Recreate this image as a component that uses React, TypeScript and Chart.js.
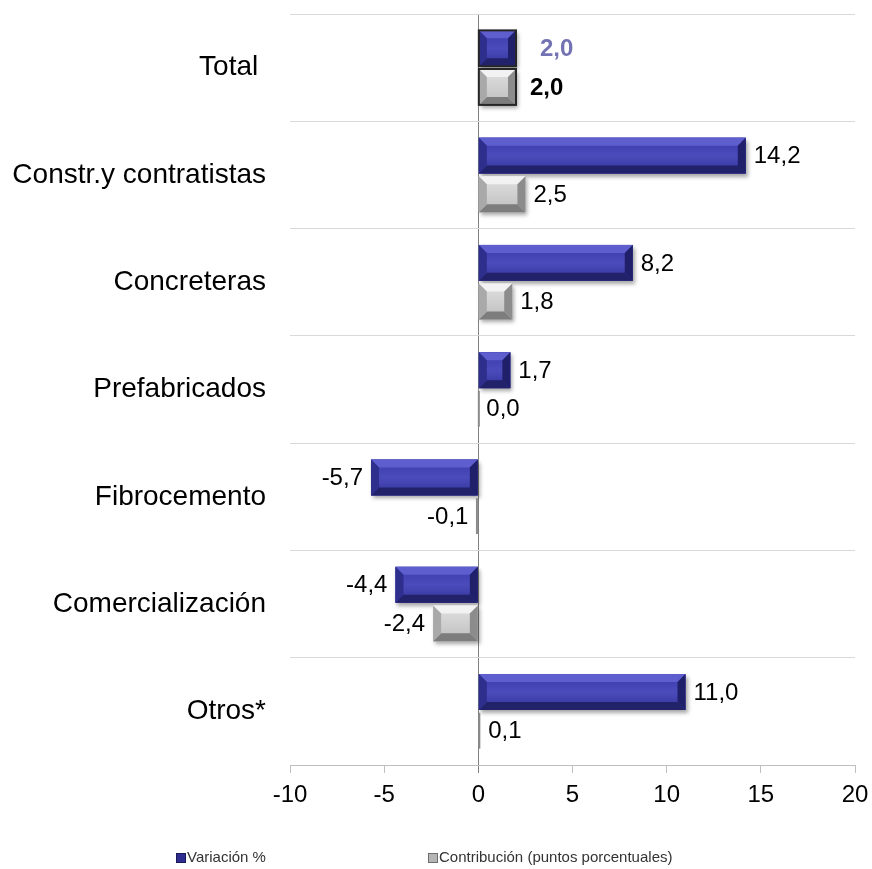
import React, { useEffect, useRef } from "react";
import { Chart, registerables } from "chart.js";

Chart.register(...registerables);

const categories = ["Total ", "Constr.y contratistas", "Concreteras", "Prefabricados", "Fibrocemento", "Comercialización", "Otros*"];
const variacion = [2.0, 14.2, 8.2, 1.7, -5.7, -4.4, 11.0];
const contribucion = [2.0, 2.5, 1.8, 0.0, -0.1, -2.4, 0.1];
const seriesNames = ["Variación %", "Contribución (puntos porcentuales)"];
const xMin = -10;
const xMax = 20;
const xStep = 5;

const FONT = "Arial, 'Liberation Sans', sans-serif";

const fmt = (v: number) => v.toFixed(1).replace(".", ",");

type Palette = { base: string; top: string; faceTop: string; faceMid: string; faceBot: string; bottom: string; left: string; right: string };
const palettes: Palette[] = [
  { base: "#3a3aa8", top: "#5e5ecf", faceTop: "#3a3aaa", faceMid: "#4b4bbb", faceBot: "#33339c", bottom: "#22226a", left: "#2e2e8c", right: "#20206a" },
  { base: "#c8c8c8", top: "#f2f2f2", faceTop: "#e0e0e0", faceMid: "#d0d0d0", faceBot: "#bdbdbd", bottom: "#7d7d7d", left: "#a9a9a9", right: "#8c8c8c" },
];

function rectOf(el: any) {
  const p = el.getProps(["x", "y", "base", "height"], true);
  const l = Math.min(p.x, p.base);
  const r = Math.max(p.x, p.base);
  const t = p.y - p.height / 2;
  const b = p.y + p.height / 2;
  return { l, r, t, b, x: p.x, y: p.y, base: p.base };
}

function poly(ctx: CanvasRenderingContext2D, pts: number[][], color: string) {
  ctx.beginPath();
  ctx.moveTo(pts[0][0], pts[0][1]);
  for (let i = 1; i < pts.length; i++) ctx.lineTo(pts[i][0], pts[i][1]);
  ctx.closePath();
  ctx.fillStyle = color;
  ctx.fill();
}

const bevelPlugin = {
  id: "bevel",
  beforeDatasetsDraw(chart: any) {
    const ctx = chart.ctx as CanvasRenderingContext2D;
    chart.data.datasets.forEach((_ds: any, di: number) => {
      const meta = chart.getDatasetMeta(di);
      meta.data.forEach((el: any) => {
        const { l, r, t, b } = rectOf(el);
        if (r - l < 3) return;
        ctx.save();
        ctx.shadowColor = "rgba(0,0,0,0.35)";
        ctx.shadowBlur = 4;
        ctx.shadowOffsetX = 2;
        ctx.shadowOffsetY = 3;
        ctx.fillStyle = palettes[di].base;
        ctx.fillRect(l, t, r - l, b - t);
        ctx.restore();
      });
    });
  },
  afterDatasetsDraw(chart: any) {
    const ctx = chart.ctx as CanvasRenderingContext2D;
    chart.data.datasets.forEach((ds: any, di: number) => {
      const meta = chart.getDatasetMeta(di);
      const pal = palettes[di];
      meta.data.forEach((el: any, i: number) => {
        const { l, r, t, b, x, y, base } = rectOf(el);
        const w = r - l;
        const h = b - t;
        ctx.save();
        if (w >= 3) {
          const bev = Math.min(8, w / 2, h / 2);
          const g = ctx.createLinearGradient(0, t, 0, b);
          g.addColorStop(0, pal.faceTop);
          g.addColorStop(0.5, pal.faceMid);
          g.addColorStop(1, pal.faceBot);
          ctx.fillStyle = g;
          ctx.fillRect(l, t, w, h);
          poly(ctx, [[l, t], [r, t], [r - bev, t + bev], [l + bev, t + bev]], pal.top);
          poly(ctx, [[l, b], [r, b], [r - bev, b - bev], [l + bev, b - bev]], pal.bottom);
          poly(ctx, [[l, t], [l + bev, t + bev], [l + bev, b - bev], [l, b]], pal.left);
          poly(ctx, [[r, t], [r - bev, t + bev], [r - bev, b - bev], [r, b]], pal.right);
          if (i === 0) {
            ctx.strokeStyle = "#262626";
            ctx.lineWidth = 2;
            ctx.strokeRect(l, t, w, h);
          }
        } else {
          ctx.fillStyle = "#8a8a8a";
          ctx.fillRect(Math.min(x, base) - 0.5, t, Math.max(w, 2), h);
        }
        const v = ds.data[i] as number;
        const isTotal = i === 0;
        let off = 8;
        if (isTotal) off = di === 0 ? 24 : 14;
        ctx.font = `${isTotal ? "bold " : ""}24px ${FONT}`;
        ctx.fillStyle = isTotal && di === 0 ? "#7373b3" : "#000000";
        ctx.textBaseline = "middle";
        if (v < 0) {
          ctx.textAlign = "right";
          ctx.fillText(fmt(v), Math.min(x, base) - off, y + 1);
        } else {
          ctx.textAlign = "left";
          ctx.fillText(fmt(v), Math.max(x, base) + off, y + 1);
        }
        ctx.restore();
      });
    });
  },
  afterDraw(chart: any) {
    const ctx = chart.ctx as CanvasRenderingContext2D;
    const items = [
      { x: 176, color: "#2e2e90", edge: "#1a1a5a", text: seriesNames[0] },
      { x: 428, color: "#b5b5b5", edge: "#6e6e6e", text: seriesNames[1] },
    ];
    const cy = 858;
    ctx.save();
    items.forEach((it) => {
      ctx.fillStyle = it.edge;
      ctx.fillRect(it.x, cy - 5, 10, 10);
      ctx.fillStyle = it.color;
      ctx.fillRect(it.x + 1, cy - 4, 8, 8);
      ctx.font = `15px ${FONT}`;
      ctx.fillStyle = "#333333";
      ctx.textAlign = "left";
      ctx.textBaseline = "middle";
      ctx.fillText(it.text, it.x + 11, cy);
    });
    ctx.restore();
  },
};

export default function App() {
  const ref = useRef<HTMLCanvasElement | null>(null);
  useEffect(() => {
    if (!ref.current) return;
    const chart = new Chart(ref.current, {
      type: "bar",
      data: {
        labels: categories,
        datasets: [
          { label: seriesNames[0], data: variacion, backgroundColor: "rgba(0,0,0,0)", borderWidth: 0, categoryPercentage: 0.72, barPercentage: 0.93 },
          { label: seriesNames[1], data: contribucion, backgroundColor: "rgba(0,0,0,0)", borderWidth: 0, categoryPercentage: 0.72, barPercentage: 0.93 },
        ],
      },
      plugins: [bevelPlugin],
      options: {
        indexAxis: "y",
        responsive: false,
        animation: false,
        layout: { padding: { top: 14, right: 17, left: 0, bottom: 0 } },
        plugins: { legend: { display: false }, tooltip: { enabled: false } },
        scales: {
          x: {
            type: "linear",
            min: xMin,
            max: xMax,
            ticks: { stepSize: xStep, font: { family: FONT, size: 24 }, color: "#000000", padding: 8 },
            grid: {
              color: (c: any) => (c.tick && c.tick.value === 0 ? "#808080" : "rgba(0,0,0,0)"),
              tickColor: (c: any) => (c.tick && c.tick.value === 0 ? "#808080" : "#bfbfbf"),
              tickLength: 8,
              lineWidth: 1,
            },
            border: { display: true, color: "#bfbfbf", width: 1 },
            afterFit: (s: any) => { s.height = 104; s.paddingLeft = 0; s.paddingRight = 0; },
          },
          y: {
            type: "category",
            ticks: { font: { family: FONT, size: 28 }, color: "#000000", padding: 24 },
            grid: { color: "#d9d9d9", drawTicks: false, offset: true, lineWidth: 1 },
            border: { display: false },
            afterFit: (s: any) => { s.width = 290; s.paddingTop = 0; s.paddingBottom = 0; },
          },
        },
      },
    });
    return () => chart.destroy();
  }, []);
  return (
    <div style={{ position: "absolute", left: 0, top: 0, width: 872, height: 869, background: "#ffffff" }}>
      <canvas ref={ref} width={872} height={869} />
    </div>
  );
}
